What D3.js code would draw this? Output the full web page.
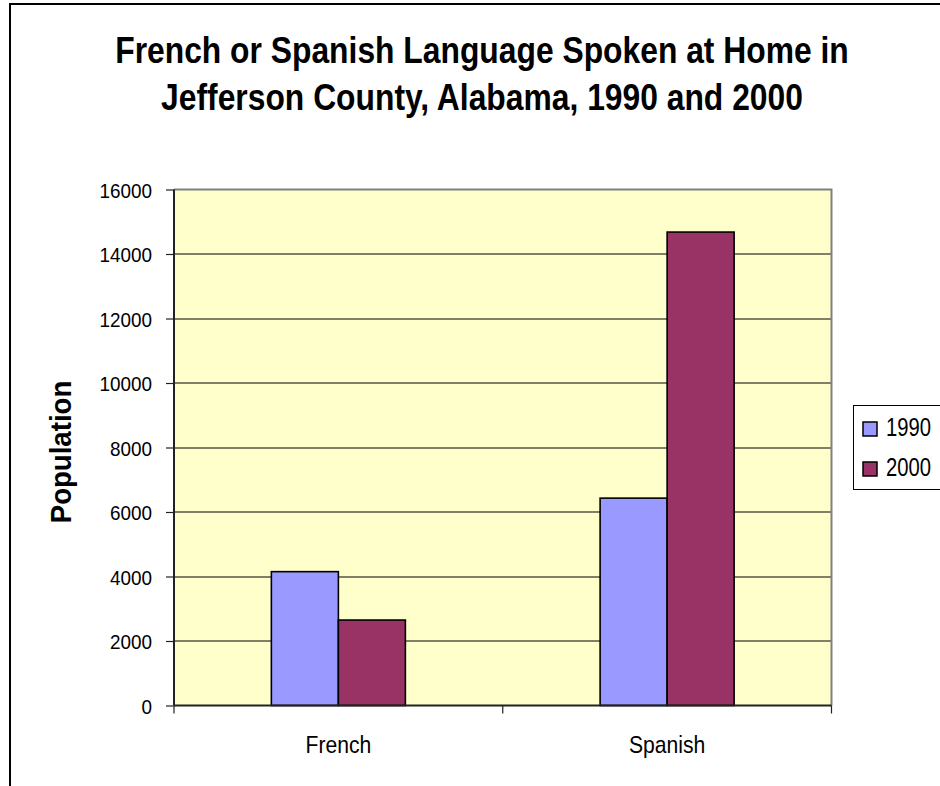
<!DOCTYPE html>
<html>
<head>
<meta charset="utf-8">
<script src="https://cdn.jsdelivr.net/npm/d3@7"></script>
<style>
  html, body { margin: 0; padding: 0; background: #fff; }
  svg { display: block; }
  text { font-family: "Liberation Sans Narrow", "Arial Narrow", "Liberation Sans", Arial, sans-serif; fill: #000; }
</style>
</head>
<body>
<svg id="chart" width="940" height="786"></svg>
<script>
// Home language counts, Jefferson County, Alabama
const categories = ["French", "Spanish"];
const seriesNames = ["1990", "2000"];
const values1990 = [4150, 6430];
const values2000 = [2650, 14680];
const yTicks = [0, 2000, 4000, 6000, 8000, 10000, 12000, 14000, 16000];
const titleLines = ["French or Spanish Language Spoken at Home in", "Jefferson County, Alabama, 1990 and 2000"];
const seriesColors = ["#9999FF", "#993366"];

const seriesValues = [values1990, values2000];
const rows = categories.map((c, i) => ({
  category: c,
  values: seriesNames.map((s, j) => ({ series: s, value: seriesValues[j][i], color: seriesColors[j] }))
}));

// condensed lettering: squeeze text horizontally around its anchor point
function narrow(sel, sx) {
  sel.each(function () {
    const t = d3.select(this);
    const px = +t.attr("x") || 0, py = +t.attr("y") || 0;
    t.attr("x", 0).attr("y", 0)
      .attr("transform", `translate(${px},${py}) scale(${sx},1)`);
  });
}

const svg = d3.select("#chart");

// outer chart frame (runs off the right and bottom edges)
svg.append("rect")
  .attr("x", 10).attr("y", 4)
  .attr("width", 1000).attr("height", 1000)
  .attr("fill", "#fff").attr("stroke", "#000").attr("stroke-width", 2);

const plot = { left: 174, right: 831.5, top: 189.5, bottom: 705.5 };

const x = d3.scaleBand().domain(categories).range([plot.left, plot.right]).padding(0);
const xInner = d3.scaleBand().domain(seriesNames).range([0, x.bandwidth()])
  .paddingInner(0).paddingOuter(1.453);
const y = d3.scaleLinear().domain([0, 16000]).range([plot.bottom, plot.top]);

// plot background
svg.append("rect")
  .attr("x", plot.left).attr("y", plot.top)
  .attr("width", plot.right - plot.left).attr("height", plot.bottom - plot.top)
  .attr("fill", "#FFFFCC");

// horizontal gridlines
svg.append("g").selectAll("line")
  .data(yTicks.filter(d => d > 0 && d < 16000))
  .join("line")
  .attr("x1", plot.left).attr("x2", plot.right)
  .attr("y1", d => Math.round(y(d))).attr("y2", d => Math.round(y(d)))
  .attr("stroke", "#000").attr("stroke-width", 1);

// top and right border of the plot area
svg.append("path")
  .attr("d", `M${plot.left},${plot.top}H${plot.right}V${plot.bottom}`)
  .attr("fill", "none").attr("stroke", "#808080").attr("stroke-width", 2);

// bars
const groups = svg.append("g").selectAll("g")
  .data(rows)
  .join("g")
  .attr("transform", d => `translate(${x(d.category)},0)`);

groups.selectAll("rect")
  .data(d => d.values)
  .join("rect")
  .attr("x", d => xInner(d.series))
  .attr("y", d => y(d.value))
  .attr("width", xInner.bandwidth())
  .attr("height", d => y(0) - y(d.value))
  .attr("fill", d => d.color)
  .attr("stroke", "#000").attr("stroke-width", 1.6);

// y axis
const yAxis = d3.axisLeft(y).tickValues(yTicks).tickSize(8).tickPadding(14).tickFormat(d3.format("d"));
const gy = svg.append("g").attr("transform", `translate(${plot.left},0)`).call(yAxis);
gy.attr("font-family", null);
gy.select(".domain").attr("stroke", "#222").attr("stroke-width", 2).attr("d", `M0,${plot.top}V${plot.bottom}`);
gy.selectAll(".tick line").attr("stroke", "#222").attr("stroke-width", 1.2);
gy.selectAll(".tick text").attr("font-size", 21).attr("y", 7.5).attr("dy", null);
narrow(gy.selectAll(".tick text"), 0.9);

// x axis
const xAxis = d3.axisBottom(x).tickSize(0).tickPadding(0).tickFormat(d => d);
const gx = svg.append("g").attr("transform", `translate(0,${plot.bottom})`).call(xAxis);
gx.attr("font-family", null);
gx.select(".domain").attr("stroke", "#222").attr("stroke-width", 2).attr("d", `M${plot.left},0H${plot.right}`);
gx.selectAll(".tick text").attr("font-size", 24).attr("y", 47).attr("dy", null);
narrow(gx.selectAll(".tick text"), 0.88);

// category separators under the x axis
svg.append("g").selectAll("line")
  .data([plot.left, x(categories[1]), plot.right])
  .join("line")
  .attr("x1", d => d).attr("x2", d => d)
  .attr("y1", plot.bottom).attr("y2", plot.bottom + 8)
  .attr("stroke", "#222").attr("stroke-width", 1.2);

// title
const title = svg.append("g").selectAll("text")
  .data(titleLines)
  .join("text")
  .attr("x", 482).attr("y", (d, i) => 63 + i * 47)
  .attr("text-anchor", "middle")
  .attr("font-size", 37).attr("font-weight", "bold")
  .text(d => d);
narrow(title, 0.86);

// y-axis title
svg.append("text")
  .attr("transform", "translate(71,452) rotate(-90) scale(0.92,1)")
  .attr("text-anchor", "middle")
  .attr("font-size", 30).attr("font-weight", "bold")
  .text("Population");

// legend
const legend = svg.append("g");
legend.append("rect")
  .attr("x", 853.5).attr("y", 405.5).attr("width", 100).attr("height", 84)
  .attr("fill", "#fff").attr("stroke", "#000").attr("stroke-width", 1);
const items = legend.selectAll("g.item")
  .data(seriesNames.map((s, i) => ({ name: s, color: seriesColors[i] })))
  .join("g").attr("class", "item")
  .attr("transform", (d, i) => `translate(863,${422 + i * 40})`);
items.append("rect")
  .attr("width", 14).attr("height", 14)
  .attr("fill", d => d.color).attr("stroke", "#000").attr("stroke-width", 1.5);
const legendText = items.append("text")
  .attr("x", 23).attr("y", 14)
  .attr("font-size", 25)
  .text(d => d.name);
narrow(legendText, 0.81);
</script>
</body>
</html>
